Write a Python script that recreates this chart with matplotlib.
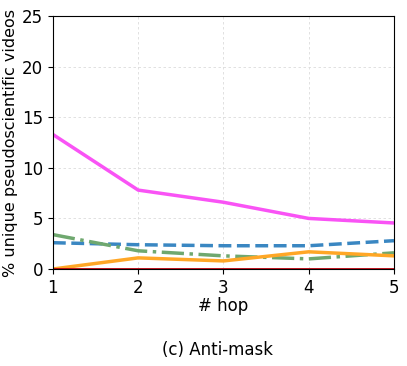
import numpy as np
import matplotlib.pyplot as plt

hops = [1, 2, 3, 4, 5]
pink = [13.3, 7.8, 6.6, 5.0, 4.55]
blue = [2.6, 2.4, 2.3, 2.3, 2.8]
green = [3.4, 1.8, 1.3, 1.0, 1.6]
orange = [0.0, 1.1, 0.8, 1.7, 1.3]
red = [0.0, 0.0, 0.0, 0.0, 0.0]

fig = plt.figure(figsize=(4.07, 3.66), dpi=100)
ax = fig.add_axes([0.13, 0.265, 0.838, 0.691])

ax.plot(hops, pink, color="#f953f5", lw=2.5)
ax.plot(hops, blue, color="#3a87c2", lw=2.5, ls="--")
ax.plot(hops, green, color="#6fa86f", lw=2.5, ls="-.")
ax.plot(hops, orange, color="#ffa726", lw=2.5)
ax.plot(hops, red, color="#c0000d", lw=2)

ax.set_xlim(1, 5)
ax.set_ylim(0, 25)
ax.set_xticks(hops)
ax.set_yticks([0, 5, 10, 15, 20, 25])
ax.grid(True, ls=(0, (3, 3)), color="#dcdcdc", lw=0.6)
ax.tick_params(labelsize=12)
ax.set_xlabel("# hop", fontsize=12, labelpad=0)
ax.set_ylabel("% unique pseudoscientific videos", fontsize=11.5, labelpad=3)

fig.text(0.535, 0.03, "(c) Anti-mask", ha="center", fontsize=12)

fig.savefig("out.png")
